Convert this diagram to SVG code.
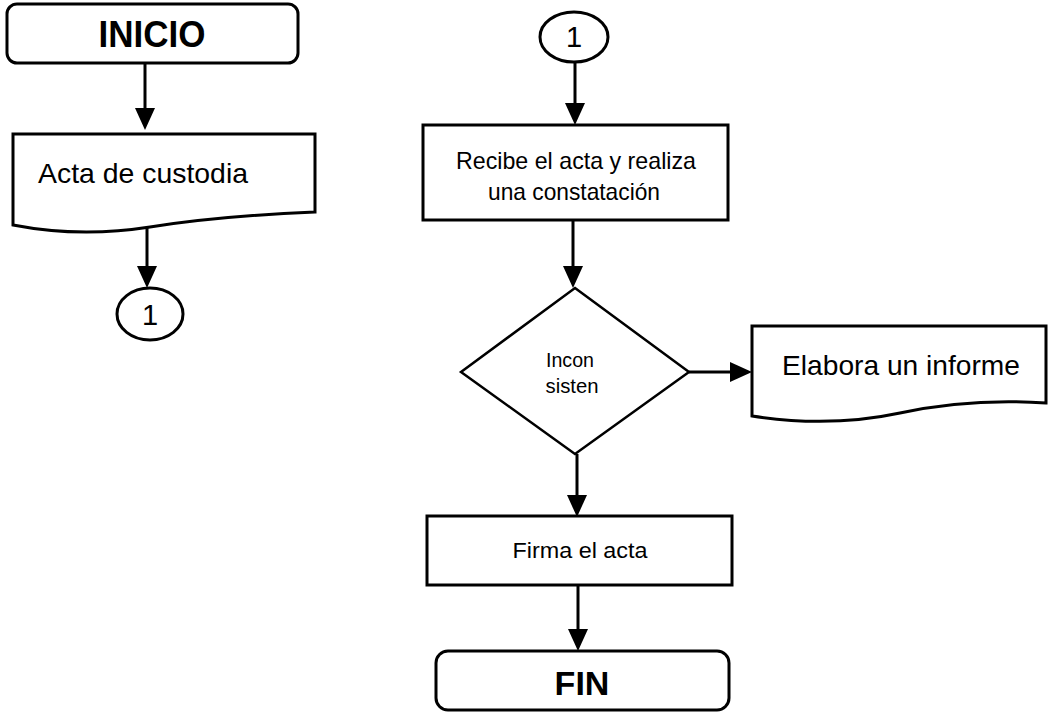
<svg xmlns="http://www.w3.org/2000/svg" width="1050" height="713" viewBox="0 0 1050 713">
  <style>
    .shape { fill: #ffffff; stroke: #000000; stroke-width: 3; stroke-linejoin: miter; }
    .edge { fill: none; stroke: #000000; stroke-width: 3; }
    .lbl { font-family: "Liberation Sans", Arial, sans-serif; fill: #000000; text-anchor: middle; }
    .term { font-family: "Liberation Sans", Arial, sans-serif; font-weight: bold; fill: #000000; text-anchor: middle; }
  </style>
  <defs>
    <marker id="arrow" viewBox="0 0 22 20" refX="16" refY="10" markerWidth="22" markerHeight="20" markerUnits="userSpaceOnUse" orient="auto">
      <path d="M0,0 L22,10 L0,20 Z" fill="#000000"/>
    </marker>
  </defs>

  <rect width="1050" height="713" fill="#ffffff"/>

  <!-- connectors -->
  <g id="connectors">
    <line class="edge" x1="145" y1="63" x2="145" y2="124" marker-end="url(#arrow)"/>
    <line class="edge" x1="147" y1="228" x2="147" y2="282" marker-end="url(#arrow)"/>
    <line class="edge" x1="575" y1="62" x2="575" y2="119" marker-end="url(#arrow)"/>
    <line class="edge" x1="573" y1="220" x2="573" y2="282" marker-end="url(#arrow)"/>
    <line class="edge" x1="689" y1="372" x2="746" y2="372" marker-end="url(#arrow)"/>
    <line class="edge" x1="577" y1="454" x2="577" y2="511" marker-end="url(#arrow)"/>
    <line class="edge" x1="578" y1="585" x2="578" y2="645" marker-end="url(#arrow)"/>
  </g>

  <!-- start terminator -->
  <g id="inicio">
    <rect class="shape" x="7" y="4" width="291" height="59" rx="10" ry="10"/>
    <text class="term" x="152" y="47" font-size="36" textLength="107" lengthAdjust="spacingAndGlyphs">INICIO</text>
  </g>

  <!-- document: Acta de custodia -->
  <g id="acta-custodia">
    <path class="shape" d="M13,134 L315,134 L315,212 Q220,216 150,227 Q80,238 13,225 Z"/>
    <text class="lbl" x="38" y="183" font-size="28" style="text-anchor:start" textLength="210" lengthAdjust="spacingAndGlyphs">Acta de custodia</text>
  </g>

  <!-- off-page connector (left) -->
  <g id="conector-1a">
    <ellipse class="shape" cx="150" cy="314" rx="33" ry="26"/>
    <text class="lbl" x="150" y="325" font-size="29">1</text>
  </g>

  <!-- off-page connector (right) -->
  <g id="conector-1b">
    <ellipse class="shape" cx="574" cy="37" rx="34" ry="25"/>
    <text class="lbl" x="574" y="47" font-size="29">1</text>
  </g>

  <!-- process: receive and verify -->
  <g id="recibe-acta">
    <rect class="shape" x="423" y="125" width="305" height="95"/>
    <text class="lbl" x="576" y="169" font-size="24" textLength="240" lengthAdjust="spacingAndGlyphs">Recibe el acta y realiza</text>
    <text class="lbl" x="574" y="200" font-size="24" textLength="172" lengthAdjust="spacingAndGlyphs">una constatación</text>
  </g>

  <!-- decision -->
  <g id="inconsisten">
    <polygon class="shape" points="575,288 689,372 575,454 461,372" style="stroke-width:2.5"/>
    <text class="lbl" x="570" y="367" font-size="20" textLength="48" lengthAdjust="spacingAndGlyphs">Incon</text>
    <text class="lbl" x="572" y="393" font-size="20" textLength="53" lengthAdjust="spacingAndGlyphs">sisten</text>
  </g>

  <!-- document: report -->
  <g id="elabora-informe">
    <path class="shape" d="M752,326 L1046,326 L1046,403 Q970,398 900,413 Q830,428 752,416 Z"/>
    <text class="lbl" x="782" y="375" font-size="28" style="text-anchor:start" textLength="238" lengthAdjust="spacingAndGlyphs">Elabora un informe</text>
  </g>

  <!-- process: sign -->
  <g id="firma-acta">
    <rect class="shape" x="427" y="516" width="305" height="69"/>
    <text class="lbl" x="580" y="558" font-size="22" textLength="135" lengthAdjust="spacingAndGlyphs">Firma el acta</text>
  </g>

  <!-- end terminator -->
  <g id="fin">
    <rect class="shape" x="436" y="651" width="293" height="59" rx="12" ry="12"/>
    <text class="term" x="582" y="695" font-size="34">FIN</text>
  </g>
</svg>
